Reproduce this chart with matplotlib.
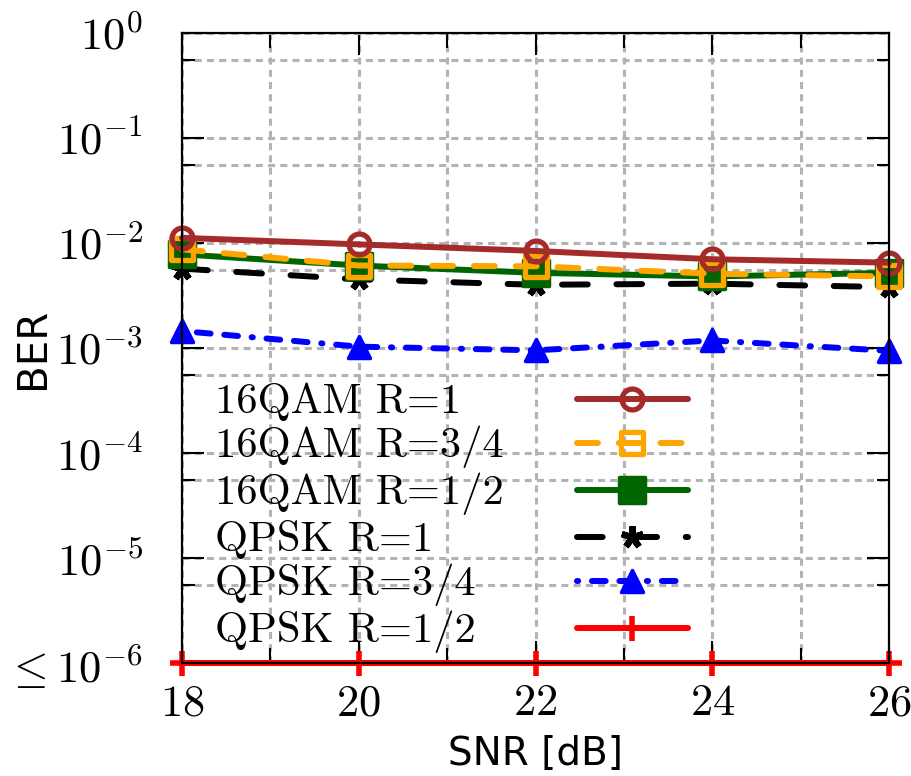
import matplotlib
matplotlib.use("Agg")
import matplotlib.pyplot as plt
from matplotlib.markers import MarkerStyle

# ---------------- data ----------------
snr = [18, 20, 22, 24, 26]
ber_16qam_r1 = [0.0112, 0.0097, 0.0084, 0.0070, 0.0065]
ber_16qam_r34 = [0.0087, 0.0061, 0.0060, 0.0051, 0.0048]
ber_16qam_r12 = [0.0078, 0.0061, 0.0052, 0.0048, 0.0052]
ber_qpsk_r1 = [0.0057, 0.0045, 0.0040, 0.0041, 0.0038]
ber_qpsk_r34 = [0.00145, 0.00103, 0.00095, 0.00118, 0.00094]
ber_qpsk_r12 = [1e-6, 1e-6, 1e-6, 1e-6, 1e-6]

labels = ["16QAM R=1", "16QAM R=3/4", "16QAM R=1/2",
          "QPSK R=1", "QPSK R=3/4", "QPSK R=1/2"]

x_major = [18, 20, 22, 24, 26]
x_major_labels = ["$18$", "$20$", "$22$", "$24$", "$26$"]
x_minor = [19, 21, 23, 25]
y_major = [1e-6, 1e-5, 1e-4, 1e-3, 1e-2, 1e-1, 1e0]
y_major_labels = [r"$\leq 10^{-6}$", r"$10^{-5}$", r"$10^{-4}$", r"$10^{-3}$",
                  r"$10^{-2}$", r"$10^{-1}$", r"$10^{0}$"]
y_minor = [5.5e-6, 5.5e-5, 5.5e-4, 5.5e-3, 5.5e-2, 5.5e-1]

# ---------------- style ----------------
plt.rcParams["mathtext.fontset"] = "cm"
FS_TICK = 32
FS_LEG = 30.6
LW = 4.3
DPI = 100

fig = plt.figure(figsize=(9.11, 7.76), dpi=DPI)
ax = fig.add_axes([0.1998, 0.1456, 0.9759 - 0.1998, 0.9575 - 0.1456])


def mk(m):
    return MarkerStyle(m, joinstyle="round")


common = dict(lw=LW, clip_on=False, dash_capstyle="round", solid_capstyle="round")

l1, = ax.plot(snr, ber_16qam_r1, color="#a52a2a", marker=mk("o"), ms=15,
              mew=3.8, mfc="none", zorder=4.4, **common)
l2, = ax.plot(snr, ber_16qam_r34, color="#ffa500", marker=mk("s"), ms=16,
              mew=3.8, mfc="none", zorder=4.2, dashes=(3.5, 3.5), **common)
l3, = ax.plot(snr, ber_16qam_r12, color="#006400", marker=mk("s"), ms=19,
              mew=2.5, zorder=4.0, **common)
l4, = ax.plot(snr, ber_qpsk_r1, color="black", marker=(5, 2, 0), ms=16,
              mew=4.5, zorder=3.8, dashes=(4.3, 4.8), **common)
l5, = ax.plot(snr, ber_qpsk_r34, color="#0000ff", marker=mk("^"), ms=16,
              mew=2.5, zorder=3.9, dashes=(0.2, 2.3, 2.3, 2.3, 2.3, 2.3), **common)
l6, = ax.plot(snr, ber_qpsk_r12, color="#ff0000", marker="+", ms=18,
              mew=4, zorder=3.0, **common)

ax.set_yscale("log")
ax.set_xlim(18, 26)
ax.set_ylim(1e-6, 1e0)

ax.set_xticks(x_major, x_major_labels)
ax.set_xticks(x_minor, minor=True)
ax.set_yticks(y_major, y_major_labels)
ax.set_yticks(y_minor, minor=True)
ax.yaxis.set_minor_formatter(matplotlib.ticker.NullFormatter())
ax.xaxis.set_minor_formatter(matplotlib.ticker.NullFormatter())

ax.tick_params(which="both", direction="in", top=True, right=True, width=1.5,
               color="black", labelsize=FS_TICK)
ax.tick_params(axis="x", which="major", length=16, pad=13)
ax.tick_params(axis="x", which="minor", length=11)
ax.tick_params(axis="y", which="major", length=16, pad=28)
ax.tick_params(axis="y", which="minor", length=9)

ax.grid(True, which="both", color="#b3b3b3", lw=2.2, dashes=(2.3, 1.7))

for sp in ax.spines.values():
    sp.set_linewidth(1.6)
    sp.set_zorder(10)

ax.set_xlabel("SNR [dB]", fontsize=28, family="DejaVu Sans")
ax.set_ylabel("BER", fontsize=29, family="DejaVu Sans")
ax.xaxis.set_label_coords(0.5, -0.114)
ax.yaxis.set_label_coords(-0.183, 0.5)

# ---------------- legend: labels left-aligned, samples in a right column ----------------
handles = [l1, l2, l3, l4, l5, l6]
leg = ax.legend(handles, labels, loc="upper left", bbox_to_anchor=(0.047, 0.446),
                bbox_transform=ax.transAxes, frameon=False, handlelength=2.6,
                handletextpad=0.5, borderpad=0, borderaxespad=0, labelspacing=0.11,
                prop={"family": "cmr10", "size": FS_LEG}, handleheight=0.52,
                markerfirst=False)
leg.set_zorder(20)

renderer = fig.canvas.get_renderer()
GAP_PX = 362  # distance from label start to sample start
column = leg._legend_handle_box.get_children()[0]
column.align = "left"
for row, txt in zip(column.get_children(), leg.get_texts()):
    w = txt.get_window_extent(renderer).width
    row.sep = (GAP_PX - w) * 72.0 / DPI

fig.savefig("out.png", dpi=DPI)
